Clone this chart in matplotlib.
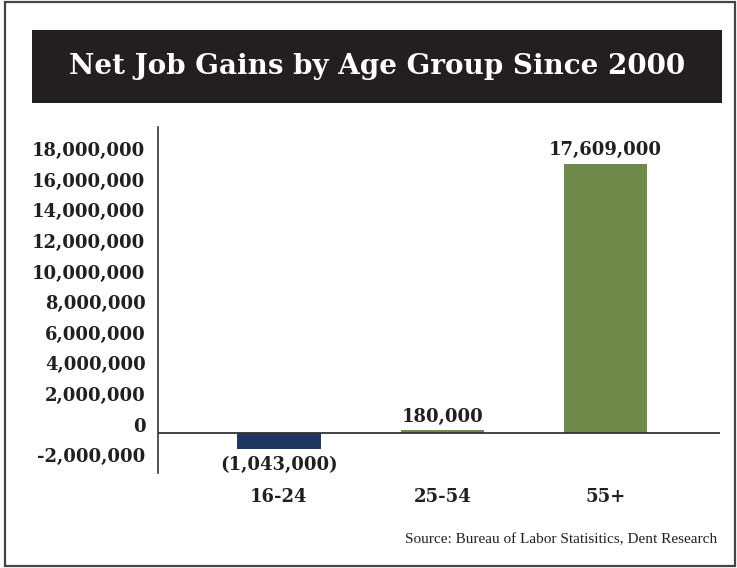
import matplotlib
matplotlib.use("Agg")
import matplotlib.pyplot as plt
from matplotlib.patches import Rectangle
import matplotlib.transforms as mtransforms

categories = ["16-24", "25-54", "55+"]
values = [-1043000, 180000, 17609000]
value_labels = ["(1,043,000)", "180,000", "17,609,000"]
bar_colors = ["#1f3861", "#6e8b4b", "#6e8b4b"]
yticks = [-2000000, 0, 2000000, 4000000, 6000000, 8000000, 10000000,
          12000000, 14000000, 16000000, 18000000]
ytick_labels = ["-2,000,000", "0", "2,000,000", "4,000,000", "6,000,000",
                "8,000,000", "10,000,000", "12,000,000", "14,000,000",
                "16,000,000", "18,000,000"]
title = "Net Job Gains by Age Group Since 2000"
source = "Source: Bureau of Labor Statisitics, Dent Research"

W, H = 737, 568
fig = plt.figure(figsize=(W / 100, H / 100), dpi=100)
ink = "#231f20"
fs = 13

# outer border
fig.add_artist(Rectangle((5 / W, 2 / H), 730 / W, 564 / H, transform=fig.transFigure,
                         fill=False, edgecolor="#444444", linewidth=1.6))
# title box
fig.add_artist(Rectangle((32 / W, 1 - 103 / H), 690 / W, 73 / H, transform=fig.transFigure,
                         facecolor=ink, edgecolor="none"))
fig.text(377 / W, 1 - 67 / H, title, ha="center", va="center", color="white",
         fontsize=20, family="DejaVu Serif", fontweight="bold")

ax = fig.add_axes([158 / W, 1 - 473 / H, (720 - 158) / W, (473 - 127) / H])
x = list(range(len(categories)))
ax.bar(x, values, width=0.51, color=bar_colors, zorder=2)
ax.set_xlim(-0.74, 2.70)
ax.set_ylim(-2620000, 20000000)
ax.axhline(0, color="#333333", linewidth=1.3, zorder=3)

for s in ["top", "right", "bottom"]:
    ax.spines[s].set_visible(False)
ax.spines["left"].set_color("#333333")
ax.spines["left"].set_linewidth(1.2)

ax.set_yticks(yticks)
ax.set_yticklabels(ytick_labels, fontsize=fs, family="DejaVu Serif",
                   fontweight="bold", color=ink)
ax.tick_params(axis="y", length=0, pad=9)
off = mtransforms.ScaledTranslation(0, 6 / 72, fig.dpi_scale_trans)
for lbl in ax.get_yticklabels():
    lbl.set_transform(lbl.get_transform() + off)

ax.set_xticks(x)
ax.set_xticklabels(categories, fontsize=fs, family="DejaVu Serif",
                   fontweight="bold", color=ink)
ax.tick_params(axis="x", length=0, pad=11)

for xi, v, lab in zip(x, values, value_labels):
    if v < 0:
        ax.annotate(lab, (xi, v), xytext=(0, -5), textcoords="offset points",
                    ha="center", va="top", fontsize=fs, family="DejaVu Serif",
                    fontweight="bold", color=ink)
    else:
        ax.annotate(lab, (xi, v), xytext=(0, 3), textcoords="offset points",
                    ha="center", va="bottom", fontsize=fs, family="DejaVu Serif",
                    fontweight="bold", color=ink)

fig.text(717 / W, 1 - 540 / H, source, ha="right", va="center", color=ink,
         fontsize=11, family="Liberation Serif")

fig.savefig("out.png", dpi=100)
